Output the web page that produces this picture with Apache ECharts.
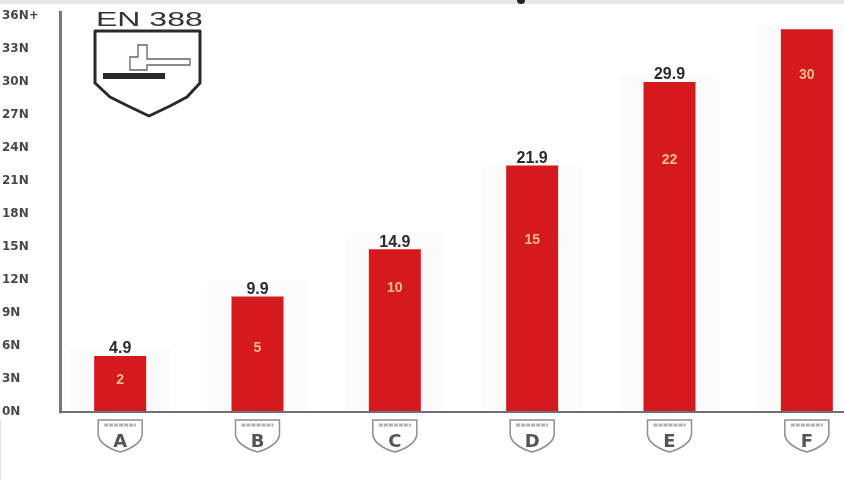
<!DOCTYPE html>
<html><head><meta charset="utf-8">
<style>html,body{margin:0;padding:0;background:#fff}#c{width:844px;height:480px}</style>
<script src="https://cdn.jsdelivr.net/npm/echarts@6/dist/echarts.min.js"></script>
</head><body><div id="c"></div>
<script>
const categories = ['A','B','C','D','E','F'];
const barValues = [5.1,10.5,14.8,22.4,30,34.8];
const haloValues = [5.8,11.9,16.2,22.4,30.7,35.2];
const topLabels = ['4.9','9.9','14.9','21.9','29.9',''];
const innerLabels = ['2','5','10','15','22','30'];
const innerLabelLevels = [2.9,5.8,11.3,15.6,22.9,30.6];
const yTicks = ['0N','3N','6N','9N','12N','15N','18N','21N','24N','27N','30N','33N','36N+'];

const shield = 'data:image/svg+xml;utf8,' + encodeURIComponent(
 '<svg xmlns="http://www.w3.org/2000/svg" width="48" height="36" viewBox="0 0 48 36">'+
 '<path d="M2 2H46V17Q44 28 24 34Q4 28 2 17Z" fill="#fff" stroke="#8f8f8f" stroke-width="1.5"/>'+
 '<path d="M8 7H40" stroke="#b0b0b0" stroke-width="3" stroke-dasharray="4 1"/></svg>');

const chart = echarts.init(document.getElementById('c'), null, {renderer:'canvas'});
chart.setOption({
  animation:false,
  backgroundColor:'#fff',
  grid:[
    {left:51.5,top:16,width:824,height:396,outerBoundsMode:'none'},
    {left:60,top:16,right:0,height:396,outerBoundsMode:'none'}
  ],
  xAxis:[
    {type:'category',gridIndex:0,data:categories,axisLine:{show:false},axisTick:{show:false},
     axisLabel:{margin:6,interval:0,hideOverlap:false,formatter:v=>'{s|'+v+'}',
       rich:{s:{width:48,height:23,align:'center',verticalAlign:'middle',padding:[13,0,0,0],
         backgroundColor:{image:shield},color:'#555',fontFamily:'DejaVu Sans',fontWeight:'bold',fontSize:18}}}},
    {type:'value',gridIndex:1,min:0,max:1,z:5,axisLine:{show:true,onZero:false,lineStyle:{color:'#707070',width:2}},
     axisTick:{show:false},axisLabel:{show:false},splitLine:{show:false}},
    {type:'category',gridIndex:0,data:categories,show:false}
  ],
  yAxis:[
    {type:'value',gridIndex:0,min:0,max:36,show:false},
    {type:'value',gridIndex:1,min:0,max:36,interval:3,z:5,
     axisLine:{show:true,onZero:false,lineStyle:{color:'#777',width:3}},axisTick:{show:false},splitLine:{show:false},
     axisLabel:{margin:58,align:'left',color:'#484848',hideOverlap:false,showMinLabel:true,showMaxLabel:true,
       padding:[3,0,0,0],fontFamily:'DejaVu Sans',fontWeight:'bold',fontSize:12,
       formatter:v=>yTicks[v/3]}}
  ],
  series:[
    {type:'bar',name:'halo',xAxisIndex:2,yAxisIndex:0,data:haloValues,barWidth:100,
     itemStyle:{color:'#fafbfa'},silent:true,z:1},
    {type:'bar',name:'EN 388',xAxisIndex:0,yAxisIndex:0,data:barValues,barWidth:52,
     itemStyle:{color:'#d41a1f'},z:3,
     label:{show:true,position:'top',distance:-1,formatter:p=>topLabels[p.dataIndex],color:'#2b2b2b',
       fontFamily:'Liberation Sans',fontWeight:'bold',fontSize:16}},
    {type:'scatter',name:'inner',xAxisIndex:0,yAxisIndex:0,data:innerLabelLevels,symbolSize:1,
     itemStyle:{color:'transparent'},z:4,
     label:{show:true,position:'inside',formatter:p=>innerLabels[p.dataIndex],color:'#f5dfae',
       fontFamily:'Liberation Sans',fontWeight:'bold',fontSize:14}}
  ],
  graphic:[
    {type:'rect',shape:{x:0,y:0,width:844,height:4},style:{fill:'#e4e6e8'},z:10},
    {type:'circle',shape:{cx:521,cy:0,r:4},style:{fill:'#222'},z:11},
    {type:'rect',shape:{x:0,y:420,width:1,height:60},style:{fill:'#e2e2e2'},z:10},
    {type:'rect',shape:{x:59,y:11,width:3,height:6},style:{fill:'#777'},z:10},
    {type:'text',x:96,y:10,scaleX:1.6,style:{text:'EN 388',fill:'#333',font:'20px "Liberation Sans"'},z:10},
    {type:'polygon',shape:{points:[[95,31],[200,31],[200,83],[187,97],[170,106],[149,116],[128,106],[110,97],[95,83]]},
     style:{fill:'#fff',stroke:'#2a2a2a',lineWidth:3,lineJoin:'round'},z:10},
    {type:'polygon',shape:{points:[[130,70],[130,57],[138,57],[138,45],[147,45],[147,59],[190,59],[190,65],[147,65],[147,70]]},
     style:{fill:'#fff',stroke:'#666',lineWidth:1.3},z:11},
    {type:'rect',shape:{x:103,y:73,width:62,height:6},style:{fill:'#2a2a2a'},z:11}
  ]
});
</script></body></html>
